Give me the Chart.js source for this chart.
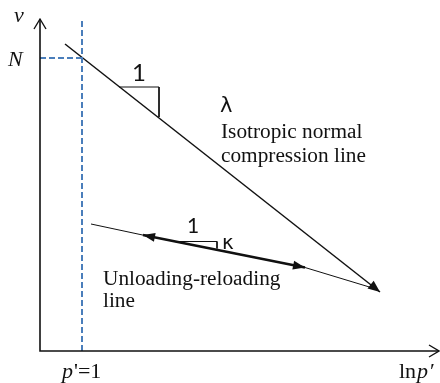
<!DOCTYPE html>
<html>
<head>
<meta charset="utf-8">
<script src="https://cdn.jsdelivr.net/npm/chart.js@4/dist/chart.umd.min.js"></script>
<style>
  html, body { margin: 0; padding: 0; background: #fff; }
  #wrap { width: 440px; height: 383px; }
</style>
</head>
<body>
<div id="wrap"><canvas id="myChart"></canvas></div>
<script>
// Diagram units: x ~ ln p', y ~ v (arbitrary scale)
const nclX = [25, 340];
const nclY = [307, 59];
const urlX = [51, 103, 265, 336];
const urlY = [127, 115.9, 83.5, 62];
const thickX = [103, 265];
const thickY = [115.9, 83.5];
const refNX = [0, 42];
const refNY = [293, 293];
const refPX = [42, 42];
const refPY = [0, 332];
const lambdaTriX = [79, 119, 119];
const lambdaTriY = [264, 264, 234];
const kappaTriX = [137, 177, 177];
const kappaTriY = [109.5, 109.5, 102.5];

const toPoints = (xs, ys) => xs.map((x, i) => ({ x: x, y: ys[i] }));

const black = '#111';
const blue = '#4a7ebb';

function arrowHead(ctx, from, to, len, half) {
  const a = Math.atan2(to.y - from.y, to.x - from.x);
  ctx.beginPath();
  ctx.moveTo(to.x, to.y);
  ctx.lineTo(to.x - len * Math.cos(a) + half * Math.sin(a), to.y - len * Math.sin(a) - half * Math.cos(a));
  ctx.lineTo(to.x - len * Math.cos(a) - half * Math.sin(a), to.y - len * Math.sin(a) + half * Math.cos(a));
  ctx.closePath();
  ctx.fill();
}

// draws axes, arrowheads and the labels
const diagram = {
  id: 'diagram',
  afterDatasetsDraw(chart) {
    const { ctx, chartArea: area, scales } = chart;
    const px = (x, y) => ({ x: scales.x.getPixelForValue(x), y: scales.y.getPixelForValue(y) });
    ctx.save();

    // axes
    ctx.strokeStyle = black;
    ctx.lineWidth = 1.6;
    ctx.beginPath();
    ctx.moveTo(area.left, area.top);
    ctx.lineTo(area.left, area.bottom);
    ctx.lineTo(area.right, area.bottom);
    ctx.stroke();
    ctx.lineWidth = 1.4;
    ctx.beginPath();
    ctx.moveTo(area.left - 6, area.top + 10);
    ctx.lineTo(area.left, area.top);
    ctx.lineTo(area.left + 6, area.top + 10);
    ctx.moveTo(area.right - 10, area.bottom - 6);
    ctx.lineTo(area.right, area.bottom);
    ctx.lineTo(area.right - 10, area.bottom + 6);
    ctx.stroke();

    // arrowheads
    ctx.fillStyle = black;
    const n = nclX.length - 1;
    arrowHead(ctx, px(nclX[n - 1], nclY[n - 1]), px(nclX[n], nclY[n]), 12, 5);
    arrowHead(ctx, px(thickX[1], thickY[1]), px(thickX[0], thickY[0]), 12, 4.5);
    arrowHead(ctx, px(thickX[0], thickY[0]), px(thickX[1], thickY[1]), 12, 4.5);

    // labels
    ctx.textBaseline = 'alphabetic';
    ctx.textAlign = 'left';
    ctx.font = 'italic 22px "Liberation Serif"';
    ctx.fillText('v', 14, 22);
    ctx.fillText('N', 8, 66);
    ctx.fillText('p', 62, 378);
    ctx.fillText('p', 417, 378);
    ctx.font = '22px "Liberation Serif"';
    ctx.fillText('\'=1', 74, 378);
    ctx.fillText('ln', 399, 378);
    ctx.fillText('\u2032', 430, 378);
    ctx.font = '21.3px "Liberation Serif"';
    ctx.fillText('Isotropic normal', 221, 138);
    ctx.fillText('compression line', 221, 162);
    ctx.fillText('Unloading-reloading', 103, 285);
    ctx.fillText('line', 103, 307);
    ctx.font = '24px Lato';
    ctx.fillText('1', 132, 81);
    ctx.font = '21px Lato';
    ctx.fillText('1', 187, 233);
    ctx.font = '21px "DejaVu Sans"';
    ctx.fillText('\u03bb', 220, 112);
    ctx.font = '20px "DejaVu Sans"';
    ctx.fillText('\u03ba', 222, 249);
    ctx.restore();
  },
};

const ctx = document.getElementById('myChart').getContext('2d');
const myChart = new Chart(ctx, {
  type: 'scatter',
  data: {
    datasets: [
      { data: toPoints(refNX, refNY), borderColor: blue, borderWidth: 2, borderDash: [6, 3] },
      { data: toPoints(refPX, refPY), borderColor: blue, borderWidth: 2, borderDash: [6, 3] },
      { data: toPoints(nclX, nclY), borderColor: black, borderWidth: 1.5 },
      { data: toPoints(urlX, urlY), borderColor: black, borderWidth: 1 },
      { data: toPoints(thickX, thickY), borderColor: black, borderWidth: 2.5 },
      { data: toPoints(lambdaTriX, lambdaTriY), borderColor: black, borderWidth: 1 },
      { data: toPoints(kappaTriX, kappaTriY), borderColor: black, borderWidth: 1 },
    ],
  },
  options: {
    responsive: true,
    maintainAspectRatio: false,
    animation: false,
    layout: { padding: { left: 40, right: 1, top: 19, bottom: 32 } },
    elements: {
      line: { tension: 0, fill: false },
      point: { radius: 0, hoverRadius: 0 },
    },
    datasets: { scatter: { showLine: true } },
    scales: {
      x: { type: 'linear', min: 0, max: 399, display: false },
      y: { type: 'linear', min: 0, max: 332, display: false },
    },
    plugins: { legend: { display: false }, tooltip: { enabled: false } },
  },
  plugins: [diagram],
});
</script>
</body>
</html>
